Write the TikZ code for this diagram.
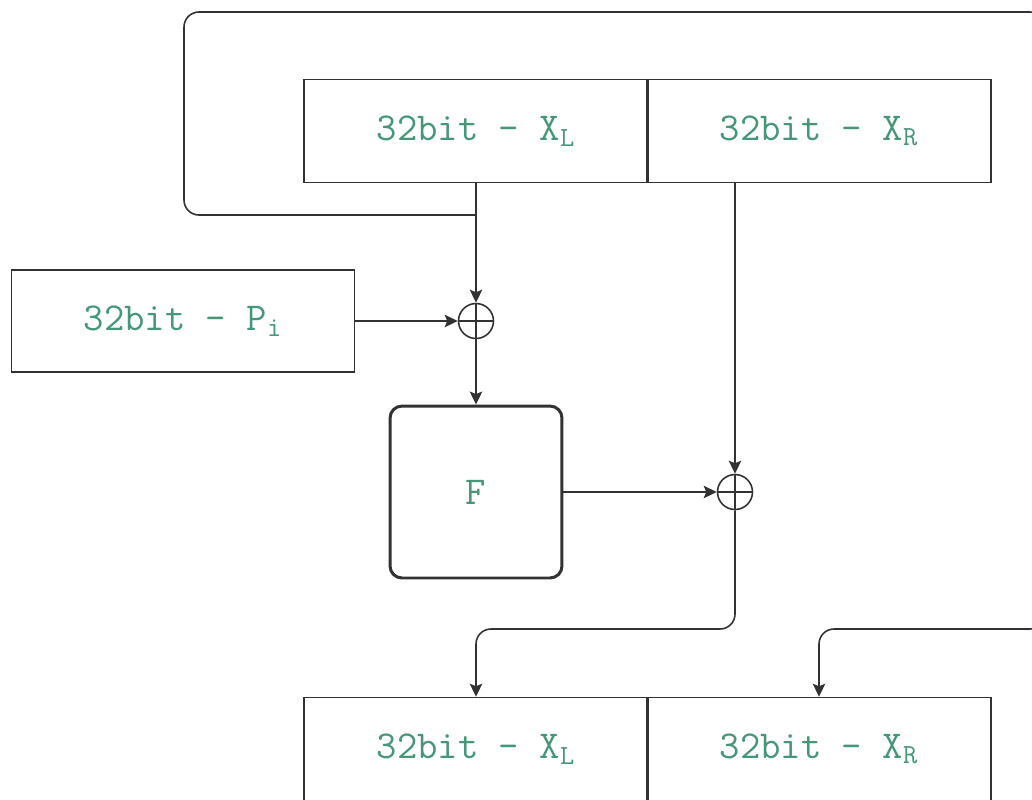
\documentclass[tikz,border=0pt]{standalone}
\usetikzlibrary{arrows.meta}
\definecolor{codegreen}{RGB}{70,150,120}
\definecolor{linegray}{RGB}{50,50,50}

\tikzset{
  link/.style={draw=linegray, line width=0.9pt},
  flow/.style={link, -{Stealth[length=0.26cm, width=0.25cm, inset=0.05cm]}},
  word/.style={link, rectangle, minimum width=6.88cm, minimum height=2.06cm,
    inner sep=0pt, text=codegreen, font=\ttfamily\fontsize{22.5}{26}\selectfont},
  roundfn/.style={word, line width=1.7pt, rounded corners=0.24cm,
    minimum width=3.44cm, minimum height=3.44cm},
  xorgate/.style={link, circle, minimum size=0.7cm, inner sep=0pt,
    path picture={\draw[linegray, line width=0.9pt]
      (path picture bounding box.north) -- (path picture bounding box.south)
      (path picture bounding box.west) -- (path picture bounding box.east);}}
}

\begin{document}
\begin{tikzpicture}[x=0.02cm, y=-0.02cm]
  \path[use as bounding box, clip] (0,0) rectangle (1032,799);

  % input halves
  \node[word] (topL) at (476,131) {32bit - X\textsubscript{L}};
  \node[word] (topR) at (819,131) {32bit - X\textsubscript{R}};

  % round key, xor and F
  \node[word, minimum width=6.86cm, minimum height=2.04cm] (key) at (183,321) {32bit - P\textsubscript{i}};
  \node[xorgate] (xor1) at (476,321) {};
  \node[roundfn] (f) at (476,492) {F};
  \node[xorgate] (xor2) at (735,492) {};

  % output halves
  \node[word] (botL) at (476,749) {32bit - X\textsubscript{L}};
  \node[word] (botR) at (819,749) {32bit - X\textsubscript{R}};

  \coordinate (tap) at (topL.south |- 0,215);

  \draw[flow] (topL.south) -- (xor1.north);
  \draw[flow] (key.east) -- (xor1.west);
  \draw[flow] (xor1.south) -- (f.north);
  \draw[flow] (f.east) -- (xor2.west);
  \draw[flow] (xor2 |- topR.south) -- (xor2.north);
  \draw[flow, rounded corners=0.3cm] (xor2.south) -- (xor2.south |- 0,629) -| (botL.north);
  % swap loop round the outside
  \draw[flow, rounded corners=0.3cm] (tap) -| (184,12) -| (1045,629) -| (botR.north);
\end{tikzpicture}
\end{document}
